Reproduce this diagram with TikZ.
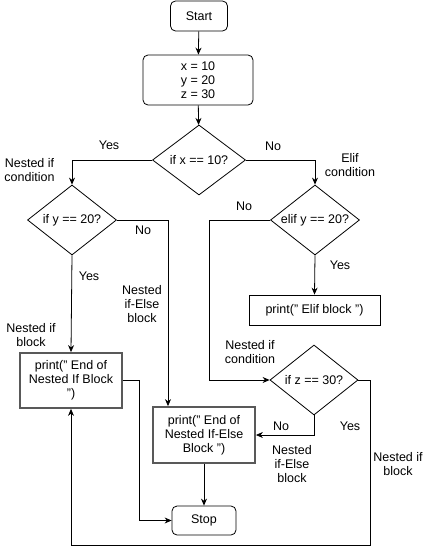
\documentclass[tikz,border=0pt]{standalone}
\usepackage{fontspec}
\setmainfont{Liberation Sans}
\usetikzlibrary{shapes.geometric,arrows.meta}

\newcommand{\blockwidth}{102pt}
\newcommand{\decisionwidth}{89pt}
\newcommand{\decisionheight}{70pt}

\begin{document}
\begin{tikzpicture}[
    x=1pt, y=-1pt,
    flow font/.style={font=\fontsize{12.5}{14}\selectfont},
    terminal/.style={flow font, draw, rounded corners=5pt, line width=0.8pt, inner sep=0pt},
    process/.style={flow font, draw, line width=0.8pt, align=center, inner sep=0pt},
    nested block/.style={process, draw=black!65, line width=1.8pt, minimum width=\blockwidth},
    decision/.style={flow font, draw, diamond, line width=0.8pt, inner sep=0pt, aspect=1.3,
        minimum width=\decisionwidth, minimum height=\decisionheight},
    remark/.style={flow font, align=center, inner sep=0pt},
    flow/.style={line width=0.8pt, -{Stealth[length=7pt,width=6pt]}},
    wire/.style={line width=0.8pt}
]

\useasboundingbox (0,0) rectangle (426,554);

% BLOCKS
\node[terminal, minimum width=57pt, minimum height=30pt] (start) at (199,16) {Start};
\node[terminal, align=center, minimum width=110pt, minimum height=50pt] (init) at (198,80) {x = 10\\y = 20\\z = 30};
\node[decision, minimum width=93pt] (ifx) at (199,160) {if x == 10?};
\node[decision] (ify) at (72,220) {if y == 20?};
\node[decision] (elify) at (315,220) {elif y == 20?};
\node[decision, minimum width=88pt] (ifz) at (314,380) {if z == 30?};
\node[nested block, minimum height=55pt] (ifblock) at (71,380.5) {print(" End of\\Nested If Block\\")};
\node[process, minimum width=131pt, minimum height=30pt] (elifblock) at (314.5,310) {print(" Elif block ")};
\node[nested block, minimum height=56pt] (elseblock) at (204,435) {print(" End of\\Nested If-Else\\Block ")};
\node[terminal, minimum width=64pt, minimum height=29pt] (stop) at (204,520.5) {Stop};

% Corners
\coordinate (ynoturn) at (168,220);
\coordinate (elifturn) at (209,220);
\coordinate (zloop) at (370,545);

% CONNECTORS
\draw[flow] (start) -- (init);
\draw[flow] (init) -- (ifx);
\draw[flow] (ifx.west) -| (ify.north);
\draw[flow] (ifx.east) -| (elify.north);
\draw[flow] (ify.south) -- (ifblock.north);
\draw[flow] (ify.east) -- (ynoturn) -- (ynoturn |- elseblock.north);
\draw[flow] (ifblock.east) -- ++(16,0) |- (stop.west);
\draw[flow] (elify.west) -- (elifturn) |- (ifz.west);
\draw[flow] (elify.south) -- (elifblock.north);
\draw[flow] (ifz.south) |- (elseblock.east);
\draw[flow] (ifz.east) -| (zloop) -| (ifblock.south);
\draw[flow] (elseblock.south) -- (stop.north);

% LABELS
\node[remark] (yesx) at (109,145) {Yes};
\node[remark] (nox) at (273,146) {No};
\node[remark] (condy) at (29.5,170) {Nested if\\condition};
\node[remark] (condelif) at (350,165) {Elif\\condition};
\node[remark] (noy) at (143,230) {No};
\node[remark] (yesy) at (89,276) {Yes};
\node[remark] (noelif) at (244,206) {No};
\node[remark] (yeselif) at (340,265) {Yes};
\node[remark] (elsey) at (142,304) {Nested\\if-Else\\block};
\node[remark] (blocky) at (31,335) {Nested if\\block};
\node[remark] (condz) at (250,352) {Nested if\\condition};
\node[remark] (noz) at (281,426) {No};
\node[remark] (yesz) at (350,426) {Yes};
\node[remark] (elsez) at (292,464) {Nested\\if-Else\\block};
\node[remark] (blockz) at (398,464) {Nested if\\block};

\end{tikzpicture}
\end{document}
